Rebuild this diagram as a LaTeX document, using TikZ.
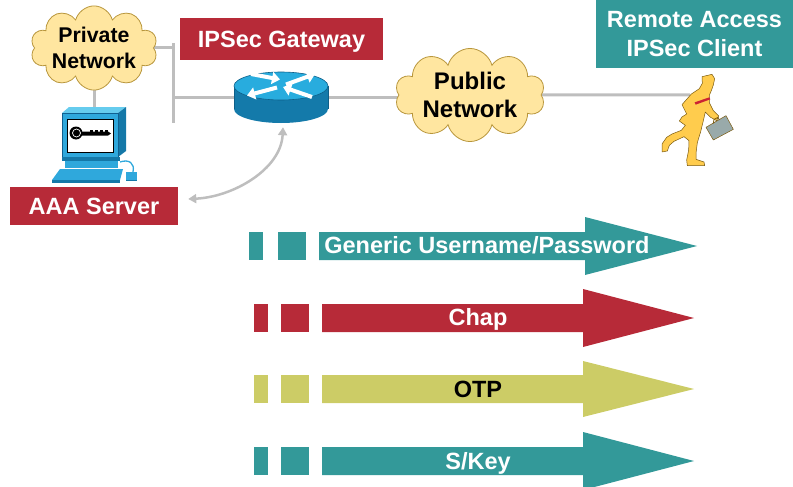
\documentclass[tikz,border=0pt]{standalone}
\usepackage{fontspec}
\setmainfont{Liberation Sans}
\usetikzlibrary{shapes.symbols,arrows.meta,calc,backgrounds}

\definecolor{appred}{RGB}{183,42,56}
\definecolor{appteal}{RGB}{51,153,153}
\definecolor{appolive}{RGB}{204,204,102}
\definecolor{cloudfill}{RGB}{255,230,160}
\definecolor{cloudline}{RGB}{184,150,60}
\definecolor{linkgray}{RGB}{190,190,190}
\definecolor{routertop}{RGB}{40,172,222}
\definecolor{routerside}{RGB}{20,122,170}
\definecolor{routerline}{RGB}{14,95,136}
\definecolor{pcmid}{RGB}{47,168,220}
\definecolor{pcdark}{RGB}{20,120,168}
\definecolor{pclight}{RGB}{102,204,238}
\definecolor{pcline}{RGB}{16,96,144}
\definecolor{manfill}{RGB}{255,204,77}
\definecolor{manline}{RGB}{122,90,16}
\definecolor{casefill}{RGB}{153,170,170}
\definecolor{tiered}{RGB}{204,34,51}

\newcommand\boxfont{\fontsize{23.5}{29}\selectfont\bfseries}
\newcommand\pubfont{\fontsize{24}{28}\selectfont\bfseries}
\newcommand\privfont{\fontsize{21.3}{26}\selectfont\bfseries}

\tikzset{
  netcloud/.style={cloud, cloud puffs=10, cloud ignores aspect, fill=cloudfill,
    draw=cloudline, line width=0.8pt, inner sep=0pt, align=center},
  labelbox/.style={rectangle, inner sep=0pt, text=white, font=\boxfont},
  redbox/.style={labelbox, fill=appred, text height=16.8pt, text depth=0pt},
  tealbox/.style={labelbox, fill=appteal, align=center},
  lnk/.style={draw=linkgray, line width=3pt},
  flowarrow/.style={draw=white, line width=4pt, -{Triangle[length=8pt,width=12pt]}},
  rowlabel/.style={anchor=base, inner sep=0pt, font=\boxfont},
}

\begin{document}
\begin{tikzpicture}[x=1pt,y=-1pt]
\useasboundingbox (0,0) rectangle (793,487);

% ---------------- network nodes ----------------
\node[netcloud, minimum width=125, minimum height=80, font=\privfont] (priv) at (94,48) {Private\\Network};
\node[netcloud, minimum width=150, minimum height=90, font=\pubfont] (pub) at (470,95) {Public\\Network};

\node[redbox, minimum width=203, minimum height=42] (gw) at (281.5,39) {IPSec Gateway};
\node[redbox, minimum width=168, minimum height=38] (aaa) at (94,206) {AAA Server};
\node[tealbox, minimum width=197, minimum height=68] (client) at (694.5,34) {Remote Access\\IPSec Client};

% router: a flat cylinder with four white arrows on its top
\node[minimum width=94, minimum height=51, inner sep=0pt] (router) at (281,97.5) {};
\fill[routerside] (281,109) ellipse[x radius=47, y radius=14];
\fill[routerside] (234,86) rectangle (328,109);
\draw[routerline, line width=0.6pt] (234,86) -- (234,109);
\draw[routerline, line width=0.6pt] (328,86) -- (328,109);
\filldraw[fill=routertop, draw=routerline, line width=0.6pt] (281,86) ellipse[x radius=47, y radius=14];
\draw[flowarrow] (251,74) -- (280,79.5);
\draw[flowarrow] (286,84.5) -- (315,74);
\draw[flowarrow] (277,87.5) -- (247,95.5);
\draw[flowarrow] (312,97) -- (283,87);

% wiring points
\coordinate (bartop) at (173,43);
\coordinate (barbot) at (173,123);
\coordinate (pctop) at (94,108);
\coordinate (manback) at (690,95);

\begin{pgfonlayer}{background}
  \draw[lnk] (bartop) -- (barbot);
  \draw[lnk] (priv.east) -- (priv.east -| bartop);
  \draw[lnk] (router.west) -- (router.west -| bartop);
  \draw[lnk] (router.east) -- (router.east -| pub.west);
  \draw[lnk] (pub.east) -- (manback);
  \draw[lnk] (priv.south) -- (pctop);
\end{pgfonlayer}

% AAA query path between gateway and server
\draw[draw=linkgray, line width=2.5pt,
      {Triangle[length=8pt,width=9pt]}-{Triangle[length=8pt,width=9pt]}]
  ($(router.south)+(2,4)$) .. controls +(-2,42) and +(45,-2) .. ($(aaa.east)+(10,-7)$);

% ---------------- AAA server workstation ----------------
\fill[pclight] (62,113) -- (69,107) -- (126,107) -- (118,113) -- cycle;
\fill[pcdark] (118,113) -- (126,107) -- (126,151) -- (118,157) -- cycle;
\filldraw[fill=pcmid, draw=pcline, line width=0.5pt] (62,113) rectangle (118,157);
\filldraw[fill=white, draw=black, line width=0.8pt] (67,119) rectangle (113,152);
% key
\fill[black] (76,133) circle[radius=6.5];
\draw[white, line width=0.7pt] (76.5,133) circle[radius=4];
\fill[black] (82,131.5) -- (108,131.5) -- (111,133.5) -- (108,135.5) -- (82,135.5) -- cycle;
\foreach \tx in {90,95,100,105} \fill[black] (\tx,129.5) rectangle (\tx+2.5,131.6);
% base, keyboard, mouse
\fill[pcdark] (62,157) rectangle (120,161);
\fill[pcmid] (65,161) rectangle (118,168);
\fill[pcmid] (60,169) -- (123,169) -- (120,180) -- (52,180) -- cycle;
\fill[pcdark] (52,180) rectangle (120,182.5);
\draw[pcmid, line width=1.3pt] (120,162) .. controls (129,159) and (135,163) .. (133,172);
\fill[pcmid] (126,172) rectangle (137,179.5);
\fill[pcdark] (126,179.5) rectangle (137,181);

% ---------------- running traveller ----------------
\begin{scope}[shift={(650,70)}, scale=0.3333]
  \filldraw[fill=manfill, draw=manline, line width=0.5pt, line join=round]
    (156,20) -- (186,13) -- (194,26) -- (190,45) -- (184,62) -- (178,76)
    -- (178,98) -- (190,122) -- (206,138) -- (200,152) -- (182,142)
    -- (166,126) -- (160,152) -- (152,185) -- (142,218) -- (138,250)
    -- (138,268) -- (162,276) -- (164,287) -- (112,287) -- (110,270)
    -- (116,240) -- (117,212) -- (102,200) -- (72,214) -- (58,226)
    -- (52,243) -- (36,246) -- (36,222) -- (50,202) -- (66,192)
    -- (94,181) -- (106,166) -- (88,153) -- (96,141) -- (110,132)
    -- (96,104) -- (124,72) -- (148,56) -- (157,40) -- cycle;
  \fill[tiered] (134,97) -- (178,82) -- (181,88) -- (137,104) -- cycle;
  \filldraw[fill=casefill, draw=manline, line width=0.5pt, line join=round]
    (168,172) -- (228,137) -- (250,178) -- (190,210) -- cycle;
  \draw[manline, line width=0.8pt] (190,160) -- (192,148) -- (204,142) -- (208,150);
\end{scope}

% ---------------- authentication methods ----------------
\fill[appteal] (249,232) rectangle (263,260);
\fill[appteal] (278,232) rectangle (306,260);
\fill[appteal] (319,232) -- (585,232) -- (585,217) -- (697,246) -- (585,275) -- (585,260) -- (319,260) -- cycle;
\node[rowlabel, text=white] (generic) at (487,253) {Generic Username/Password};

\fill[appred] (254,304) rectangle (268,332);
\fill[appred] (281,304) rectangle (309,332);
\fill[appred] (322,304) -- (583,304) -- (583,289) -- (694,318) -- (583,347) -- (583,332) -- (322,332) -- cycle;
\node[rowlabel, text=white] (chap) at (478,325) {Chap};

\fill[appolive] (254,375) rectangle (268,403);
\fill[appolive] (281,375) rectangle (309,403);
\fill[appolive] (322,375) -- (583,375) -- (583,361) -- (694,389) -- (583,417) -- (583,403) -- (322,403) -- cycle;
\node[rowlabel, text=black] (otp) at (478,397) {OTP};

\fill[appteal] (254,447) rectangle (268,475);
\fill[appteal] (281,447) rectangle (309,475);
\fill[appteal] (322,447) -- (583,447) -- (583,432) -- (694,461) -- (583,490) -- (583,475) -- (322,475) -- cycle;
\node[rowlabel, text=white] (skey) at (478,469) {S/Key};
\end{tikzpicture}
\end{document}
